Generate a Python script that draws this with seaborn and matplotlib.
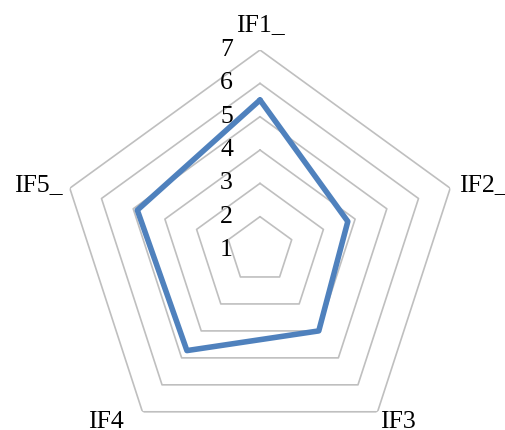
import numpy as np
import pandas as pd
import matplotlib
matplotlib.use("Agg")
import matplotlib.pyplot as plt
import seaborn as sns

# ---- data ----
categories = ["IF1_", "IF2_", "IF3", "IF4", "IF5_"]
values = [5.5, 3.77, 4.0, 4.73, 4.87]
levels = [1, 2, 3, 4, 5, 6, 7]
r_min, r_max = 1, 7

sns.set_style("white")
plt.rcParams["font.family"] = ["Liberation Serif", "DejaVu Serif"]

W, H = 505, 430
fig = plt.figure(figsize=(W / 100, H / 100), dpi=100)
cx, cy, R = 260, 250, 200
ax = fig.add_axes([(cx - R) / W, (H - cy - R) / H, 2 * R / W, 2 * R / H],
                  projection="polar")
ax.set_theta_zero_location("N")
ax.set_theta_direction(-1)
ax.set_ylim(r_min, r_max)
ax.grid(False)
ax.set_xticks([])
ax.set_yticks([])
ax.spines["polar"].set_visible(False)
ax.patch.set_alpha(0)

n = len(categories)
angles = np.linspace(0, 2 * np.pi, n, endpoint=False)
closed = np.append(angles, 2 * np.pi)

# pentagon grid
for lv in levels[1:]:
    ax.plot(closed, [lv] * (n + 1), color="#BFBFBF", lw=1.2, zorder=1)

df = pd.DataFrame({"theta": closed, "r": values + [values[0]]})
sns.lineplot(data=df, x="theta", y="r", ax=ax, sort=False, estimator=None,
             color="#4F81BD", lw=4.0, zorder=3)
ax.set_xlabel("")
ax.set_ylabel("")

fs = 18.5
# radial value labels
for lv in levels:
    ax.annotate(str(lv), xy=(0, lv), xytext=(-27, 0), textcoords="offset pixels",
                ha="right", va="center", fontsize=fs, color="black",
                annotation_clip=False)

# category labels
offsets = [((0, 25), "center"), ((9, 3), "left"), ((2, -10), "left"),
           ((-19, -10), "right"), ((-7, 3), "right")]
for ang, lab, (off, ha) in zip(angles, categories, offsets):
    ax.annotate(lab, xy=(ang, r_max), xytext=off, textcoords="offset pixels",
                ha=ha, va="center", fontsize=fs, color="black",
                annotation_clip=False)

fig.savefig("out.png", dpi=100)
